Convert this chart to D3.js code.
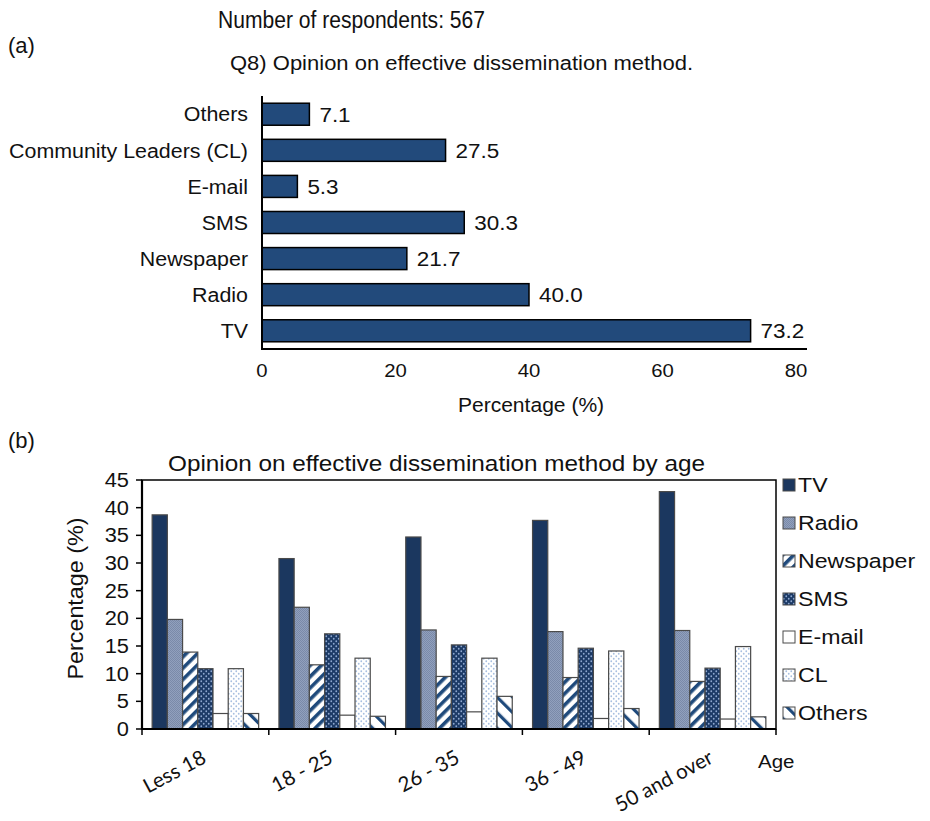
<!DOCTYPE html>
<html>
<head>
<meta charset="utf-8">
<script src="https://cdn.jsdelivr.net/npm/d3@7"></script>
<style>
  html, body { margin: 0; padding: 0; background: #fff; }
  svg { display: block; font-family: "Liberation Sans", Arial, sans-serif; }
</style>
</head>
<body>
<svg id="chart" width="930" height="821"></svg>
<script>
// ---- Panel (a): overall opinion ----
const methodsA = ["Others", "Community Leaders (CL)", "E-mail", "SMS", "Newspaper", "Radio", "TV"];
const percentA = [7.1, 27.5, 5.3, 30.3, 21.7, 40.0, 73.2];
const ticksA = [0, 20, 40, 60, 80];

// ---- Panel (b): opinion by age group ----
const ageGroups = ["Less 18", "18 - 25", "26 - 35", "36 - 49", "50 and over"];
const seriesNames = ["TV", "Radio", "Newspaper", "SMS", "E-mail", "CL", "Others"];
const tvByAge        = [38.7, 30.8, 34.7, 37.7, 42.9];
const radioByAge     = [19.8, 22.0, 17.9, 17.6, 17.8];
const newspaperByAge = [13.9, 11.6, 9.5, 9.3, 8.6];
const smsByAge       = [10.9, 17.2, 15.2, 14.6, 11.0];
const emailByAge     = [2.8, 2.5, 3.1, 1.9, 1.8];
const clByAge        = [10.9, 12.8, 12.8, 14.1, 14.9];
const othersByAge    = [2.8, 2.3, 5.9, 3.7, 2.2];
const ticksB = [0, 5, 10, 15, 20, 25, 30, 35, 40, 45];

const valuesB = [tvByAge, radioByAge, newspaperByAge, smsByAge, emailByAge, clByAge, othersByAge];

const svg = d3.select("#chart");
const defs = svg.append("defs");

// Text placed at (x, y) and widened horizontally by sx
function wideText(parent, x, y, sx) {
  return parent.append("text")
    .attr("transform", `translate(${x},${y}) scale(${sx},1)`)
    .attr("fill", "#111");
}

// Fill patterns for the grouped bars
function dotPattern(id, bg, dot, size, r) {
  const p = defs.append("pattern").attr("id", id).attr("patternUnits", "userSpaceOnUse")
    .attr("width", size).attr("height", size);
  p.append("rect").attr("width", size).attr("height", size).attr("fill", bg);
  p.append("circle").attr("cx", size / 4).attr("cy", size / 4).attr("r", r).attr("fill", dot);
  p.append("circle").attr("cx", size * 3 / 4).attr("cy", size * 3 / 4).attr("r", r).attr("fill", dot);
}
function stripePattern(id, fg, spacing, width, angle) {
  const p = defs.append("pattern").attr("id", id).attr("patternUnits", "userSpaceOnUse")
    .attr("width", spacing).attr("height", spacing)
    .attr("patternTransform", `rotate(${angle})`);
  p.append("rect").attr("width", spacing).attr("height", spacing).attr("fill", "#fff");
  p.append("rect").attr("width", width).attr("height", spacing).attr("fill", fg);
}
dotPattern("pRadio", "#91a0bd", "#7383a2", 2, 0.5);
stripePattern("pNews", "#1f4a7c", 8, 3.6, 45);
dotPattern("pSms", "#1c3a66", "#8ea7cf", 5, 0.9);
dotPattern("pCl", "#ffffff", "#a8bfe0", 5, 0.9);
stripePattern("pOthers", "#1f4a7c", 11, 3.2, -45);

const fills = ["#1b375f", "url(#pRadio)", "url(#pNews)", "url(#pSms)", "#ffffff", "url(#pCl)", "url(#pOthers)"];

// ================= Panel (a) =================
const xA = d3.scaleLinear().domain([0, 80]).range([262, 796]);
const yA = d3.scaleBand().domain(methodsA).range([96, 349]).paddingInner(0.39).paddingOuter(0.2);

svg.append("text").attr("x", 218).attr("y", 28).attr("font-size", 23.5).attr("fill", "#111")
  .attr("textLength", 267).attr("lengthAdjust", "spacingAndGlyphs")
  .text("Number of respondents: 567");
svg.append("text").attr("x", 8).attr("y", 53).attr("font-size", 22).attr("fill", "#111").text("(a)");
svg.append("text").attr("x", 230).attr("y", 70).attr("font-size", 20).attr("fill", "#111")
  .attr("textLength", 463).attr("lengthAdjust", "spacingAndGlyphs")
  .text("Q8) Opinion on effective dissemination method.");

const gA = svg.append("g");
gA.selectAll("rect.barA").data(methodsA).join("rect")
  .attr("class", "barA")
  .attr("x", xA(0))
  .attr("y", d => yA(d))
  .attr("width", (d, i) => xA(percentA[i]) - xA(0))
  .attr("height", yA.bandwidth())
  .attr("fill", "#224a7b")
  .attr("stroke", "#000").attr("stroke-width", 1.5);

methodsA.forEach((m, i) => {
  const cy = yA(m) + yA.bandwidth() / 2;
  wideText(gA, xA(percentA[i]) + 10, cy, 1.07)
    .attr("dy", "0.36em").attr("font-size", 21)
    .text(percentA[i].toFixed(1));
  wideText(gA, 248, cy, 1.07)
    .attr("dy", "0.36em").attr("font-size", 20).attr("text-anchor", "end")
    .text(m);
});

// axes of panel (a)
gA.append("line").attr("x1", xA(0)).attr("x2", xA(0)).attr("y1", 96).attr("y2", 349)
  .attr("stroke", "#000").attr("stroke-width", 2);
gA.append("line").attr("x1", xA(0) - 1).attr("x2", 807).attr("y1", 349).attr("y2", 349)
  .attr("stroke", "#000").attr("stroke-width", 2);
ticksA.forEach(t => {
  wideText(gA, xA(t), 377, 1.07)
    .attr("text-anchor", "middle").attr("font-size", 19)
    .text(t);
});
wideText(gA, 531, 412, 1.08)
  .attr("text-anchor", "middle").attr("font-size", 19.5)
  .text("Percentage (%)");

// ================= Panel (b) =================
const plotLeft = 142, plotRight = 776, plotTop = 480, plotBottom = 729;
const x0 = d3.scaleBand().domain(ageGroups).range([plotLeft, plotRight]).paddingInner(0.16).paddingOuter(0.08);
const x1 = d3.scaleBand().domain(seriesNames).range([0, x0.bandwidth()]);
const yB = d3.scaleLinear().domain([0, 45]).range([plotBottom, plotTop]);

svg.append("text").attr("x", 8).attr("y", 448).attr("font-size", 22).attr("fill", "#111").text("(b)");
svg.append("text").attr("x", 168).attr("y", 471).attr("font-size", 22).attr("fill", "#111")
  .attr("textLength", 537).attr("lengthAdjust", "spacingAndGlyphs")
  .text("Opinion on effective dissemination method by age");

const gB = svg.append("g");
seriesNames.forEach((s, si) => {
  gB.append("g").selectAll("rect").data(ageGroups).join("rect")
    .attr("x", d => x0(d) + x1(s))
    .attr("y", (d, gi) => yB(valuesB[si][gi]))
    .attr("width", x1.bandwidth())
    .attr("height", (d, gi) => yB(0) - yB(valuesB[si][gi]))
    .attr("fill", fills[si])
    .attr("stroke", "#4a4a4a").attr("stroke-width", 1.2);
});

// frame
gB.append("rect").attr("x", plotLeft).attr("y", plotTop)
  .attr("width", plotRight - plotLeft).attr("height", plotBottom - plotTop)
  .attr("fill", "none").attr("stroke", "#000").attr("stroke-width", 1.5);
gB.append("line").attr("x1", plotLeft).attr("x2", plotRight).attr("y1", plotBottom).attr("y2", plotBottom)
  .attr("stroke", "#000").attr("stroke-width", 2.2);
gB.append("line").attr("x1", plotLeft).attr("x2", plotLeft).attr("y1", plotTop).attr("y2", plotBottom)
  .attr("stroke", "#000").attr("stroke-width", 2.2);

// y ticks
gB.selectAll("line.ytick").data(ticksB).join("line")
  .attr("class", "ytick")
  .attr("x1", plotLeft - 6).attr("x2", plotLeft)
  .attr("y1", d => yB(d)).attr("y2", d => yB(d))
  .attr("stroke", "#000").attr("stroke-width", 1.5);
ticksB.forEach(t => {
  wideText(gB, plotLeft - 13, yB(t), 1.12)
    .attr("dy", "0.36em").attr("text-anchor", "end").attr("font-size", 19.5)
    .text(t);
});
svg.append("text")
  .attr("transform", `translate(83,${(plotTop + plotBottom) / 2 - 6}) rotate(-90)`)
  .attr("text-anchor", "middle").attr("font-size", 22).attr("fill", "#111")
  .attr("textLength", 162).attr("lengthAdjust", "spacingAndGlyphs")
  .text("Percentage (%)");

// x ticks at group boundaries
const step = x0.step();
const bounds = ageGroups.map(g => x0(g) - x0.paddingInner() * step / 2).concat([plotRight]);
bounds[0] = plotLeft;
gB.selectAll("line.xtick").data(bounds).join("line")
  .attr("class", "xtick")
  .attr("x1", d => d).attr("x2", d => d)
  .attr("y1", plotBottom).attr("y2", plotBottom + 6)
  .attr("stroke", "#000").attr("stroke-width", 1.5);

gB.selectAll("text.xtl").data(ageGroups).join("text")
  .attr("class", "xtl")
  .attr("transform", d => `translate(${x0(d) + x0.bandwidth() / 2 + 2},${plotBottom + 33}) rotate(-28)`)
  .attr("text-anchor", "end")
  .attr("font-family", "Lato, 'Open Sans', sans-serif")
  .attr("font-size", 20.5).attr("fill", "#111")
  .text(d => d);

wideText(svg, 758, 768, 1.08).attr("font-size", 19).text("Age");

// legend
const legend = svg.append("g");
seriesNames.forEach((s, i) => {
  const cy = 485 + i * 38;
  legend.append("rect").attr("x", 783).attr("y", cy - 6).attr("width", 12).attr("height", 12)
    .attr("fill", fills[i]).attr("stroke", "#4a4a4a").attr("stroke-width", 1);
  wideText(legend, 798, cy, 1.13).attr("dy", "0.36em").attr("font-size", 20.5).text(s);
});
</script>
</body>
</html>
